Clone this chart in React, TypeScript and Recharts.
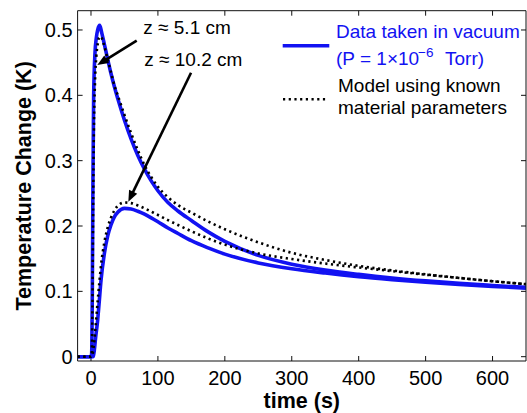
import React from 'react';
import { LineChart, Line, XAxis, YAxis, ReferenceLine, Label } from 'recharts';

const FONT = '"Liberation Sans", Arial, Helvetica, sans-serif';
const BLUE = '#1212f2';

// axes
const xTicks = [0, 100, 200, 300, 400, 500, 600];
const yTicks = [0, 0.1, 0.2, 0.3, 0.4, 0.5];
const xDomain: [number, number] = [-20, 650];
const yDomain: [number, number] = [-0.0066, 0.5295];

// measured data, z ≈ 5.1 cm
const dataTimes5 = [-20, 0, 1, 2, 3, 4, 6, 8, 10, 13, 16, 20, 25, 30, 35, 40, 50, 60, 70, 80, 90, 100, 115, 130, 150, 175, 200, 250, 300, 350, 400, 450, 500, 550, 600, 650];
const dataTemps5 = [0, 0, 0.005, 0.1, 0.28, 0.4, 0.465, 0.488, 0.5, 0.507, 0.496, 0.478, 0.455, 0.433, 0.413, 0.395, 0.362, 0.333, 0.308, 0.287, 0.269, 0.254, 0.236, 0.223, 0.2085, 0.191, 0.1765, 0.155, 0.1415, 0.1325, 0.126, 0.1205, 0.116, 0.1122, 0.109, 0.106];

// model, z ≈ 5.1 cm
const modelTimes5 = [-20, 0, 1, 2, 3, 4, 6, 8, 10, 12, 15, 18, 20, 25, 30, 35, 40, 50, 60, 70, 80, 90, 100, 115, 130, 150, 175, 200, 250, 300, 350, 400, 450, 500, 550, 600, 650];
const modelTemps5 = [0, 0, 0.003, 0.06, 0.2, 0.32, 0.42, 0.46, 0.478, 0.488, 0.49, 0.482, 0.475, 0.455, 0.435, 0.415, 0.4, 0.37, 0.342, 0.316, 0.293, 0.275, 0.26, 0.244, 0.232, 0.2205, 0.207, 0.195, 0.175, 0.159, 0.148, 0.139, 0.132, 0.126, 0.1205, 0.1155, 0.111];

// measured data, z ≈ 10.2 cm
const dataTimes10 = [-20, 0, 3, 5, 7, 10, 12, 15, 20, 25, 30, 35, 40, 50, 60, 70, 80, 90, 100, 115, 130, 150, 175, 200, 250, 300, 350, 400, 450, 500, 550, 600, 650];
const dataTemps10 = [0, 0, 0, 0.01, 0.03, 0.056, 0.08, 0.117, 0.158, 0.185, 0.202, 0.214, 0.221, 0.227, 0.226, 0.2225, 0.218, 0.2125, 0.2065, 0.197, 0.1885, 0.1775, 0.1665, 0.157, 0.1435, 0.1345, 0.128, 0.1225, 0.118, 0.114, 0.1105, 0.1075, 0.105];

// model, z ≈ 10.2 cm
const modelTimes10 = [-20, 0, 2, 4, 6, 8, 10, 12, 15, 20, 25, 30, 35, 40, 50, 60, 70, 80, 95, 115, 130, 150, 175, 200, 250, 300, 350, 400, 450, 500, 550, 600, 650];
const modelTemps10 = [0, 0, 0.002, 0.015, 0.035, 0.06, 0.085, 0.108, 0.14, 0.175, 0.198, 0.213, 0.224, 0.231, 0.236, 0.235, 0.2315, 0.227, 0.2195, 0.209, 0.2015, 0.192, 0.181, 0.1715, 0.158, 0.1495, 0.1425, 0.1365, 0.131, 0.1255, 0.1205, 0.1155, 0.111];

// annotation arrows (data coordinates): tail -> tip
const arrowTailTimes = [68.3, 149.5];
const arrowTailTemps = [0.4836, 0.4346];
const arrowTipTimes = [9.4, 55.8];
const arrowTipTemps = [0.4464, 0.2372];
const annotationTexts = ['z ≈ 5.1 cm', 'z ≈ 10.2 cm'];

const toPoints = (ts: number[], vs: number[]) => ts.map((t, i) => ({ t, v: vs[i] }));

const AXIS_COLOR = '#111';
const TICK_LEN = 5;

const Arrow = (p: any) => {
  const { x1, y1, x2, y2 } = p;
  const dx = x2 - x1;
  const dy = y2 - y1;
  const len = Math.hypot(dx, dy) || 1;
  const ux = dx / len;
  const uy = dy / len;
  const hl = 11;
  const hw = 4.5;
  const bx = x2 - ux * hl;
  const by = y2 - uy * hl;
  return (
    <g>
      <line x1={x1} y1={y1} x2={bx + ux * 2} y2={by + uy * 2} stroke="#000" strokeWidth={2.6} />
      <polygon
        points={`${x2},${y2} ${bx - uy * hw},${by + ux * hw} ${bx + uy * hw},${by - ux * hw}`}
        fill="#000"
      />
    </g>
  );
};

// inward tick marks at both ends of a full-span reference line
const VTicks = (p: any) => {
  const { x1, y1, x2, y2 } = p;
  const top = Math.min(y1, y2);
  const bot = Math.max(y1, y2);
  return (
    <g>
      <line x1={x1} y1={top} x2={x1} y2={top + TICK_LEN} stroke={AXIS_COLOR} strokeWidth={1} />
      <line x1={x2} y1={bot - TICK_LEN} x2={x2} y2={bot} stroke={AXIS_COLOR} strokeWidth={1} />
    </g>
  );
};
const HTicks = (p: any) => {
  const { x1, y1, x2, y2 } = p;
  const left = Math.min(x1, x2);
  const right = Math.max(x1, x2);
  return (
    <g>
      <line x1={left} y1={y1} x2={left + TICK_LEN} y2={y1} stroke={AXIS_COLOR} strokeWidth={1} />
      <line x1={right - TICK_LEN} y1={y2} x2={right} y2={y2} stroke={AXIS_COLOR} strokeWidth={1} />
    </g>
  );
};

const tickStyle = { fontSize: 20, fill: '#000', fontFamily: FONT };

export default function App() {
  const s5 = toPoints(dataTimes5, dataTemps5);
  const m5 = toPoints(modelTimes5, modelTemps5);
  const s10 = toPoints(dataTimes10, dataTemps10);
  const m10 = toPoints(modelTimes10, modelTemps10);

  return (
    <div style={{ position: 'absolute', left: 0, top: 0, width: 527, height: 413, background: '#fff' }}>
      <LineChart width={527} height={413} margin={{ top: 10.7, right: 1, left: 0, bottom: 0 }}>
        <XAxis
          xAxisId="b"
          dataKey="t"
          type="number"
          domain={xDomain}
          ticks={xTicks}
          allowDataOverflow
          height={52}
          tickLine={false}
          tickSize={5}
          tickMargin={5}
          axisLine={{ stroke: AXIS_COLOR }}
          tick={tickStyle}
        >
          <Label
            content={(props: any) => {
              const vb = props.viewBox;
              return (
                <text x={vb.x + vb.width / 2} y={407.5} textAnchor="middle" fontFamily={FONT} fontSize={21.5} fontWeight="bold" fill="#000">
                  time (s)
                </text>
              );
            }}
          />
        </XAxis>
        <XAxis xAxisId="tm" dataKey="t" type="number" orientation="top" mirror domain={xDomain} ticks={xTicks} allowDataOverflow tick={false} axisLine={{ stroke: AXIS_COLOR }} tickLine={false} />
        <YAxis
          yAxisId="l"
          type="number"
          domain={yDomain}
          ticks={yTicks}
          allowDataOverflow
          width={77.6}
          tickLine={false}
          tickSize={5}
          tickMargin={0}
          axisLine={{ stroke: AXIS_COLOR }}
          tick={tickStyle}
        >
          <Label
            content={(props: any) => {
              const vb = props.viewBox;
              const cy = vb.y + vb.height / 2;
              return (
                <text x={31} y={cy} transform={`rotate(-90 31 ${cy})`} textAnchor="middle" fontFamily={FONT} fontSize={21.5} fontWeight="bold" fill="#000">
                  Temperature Change (K)
                </text>
              );
            }}
          />
        </YAxis>
        <YAxis yAxisId="rm" type="number" orientation="right" mirror domain={yDomain} ticks={yTicks} allowDataOverflow tick={false} axisLine={{ stroke: AXIS_COLOR }} tickLine={false} />

        {xTicks.map((t) => (
          <ReferenceLine key={`xt${t}`} xAxisId="b" yAxisId="l" x={t} shape={VTicks} />
        ))}
        {yTicks.map((v) => (
          <ReferenceLine key={`yt${v}`} xAxisId="b" yAxisId="l" y={v} shape={HTicks} />
        ))}

        <Line xAxisId="b" yAxisId="l" data={s5} dataKey="v" type="monotone" stroke={BLUE} strokeWidth={3.6} dot={false} isAnimationActive={false} />
        <Line xAxisId="b" yAxisId="l" data={s10} dataKey="v" type="monotone" stroke={BLUE} strokeWidth={3.6} dot={false} isAnimationActive={false} />
        <Line xAxisId="b" yAxisId="l" data={m5} dataKey="v" type="monotone" stroke="#000" strokeWidth={2.6} strokeDasharray="2.2 3.5" dot={false} isAnimationActive={false} />
        <Line xAxisId="b" yAxisId="l" data={m10} dataKey="v" type="monotone" stroke="#000" strokeWidth={2.6} strokeDasharray="2.2 3.5" dot={false} isAnimationActive={false} />

        {arrowTailTimes.map((t, i) => (
          <ReferenceLine
            key={`arrow${i}`}
            xAxisId="b"
            yAxisId="l"
            ifOverflow="visible"
            segment={[
              { x: t, y: arrowTailTemps[i] },
              { x: arrowTipTimes[i], y: arrowTipTemps[i] },
            ]}
            shape={Arrow}
          />
        ))}
      </LineChart>

      <svg width={527} height={413} style={{ position: 'absolute', left: 0, top: 0, pointerEvents: 'none' }} fontFamily={FONT}>
        <text x={143.3} y={34.3} fontSize={19} fill="#000">{annotationTexts[0]}</text>
        <text x={144.3} y={65.7} fontSize={19} fill="#000">{annotationTexts[1]}</text>

        <line x1={282.7} y1={45.7} x2={329.3} y2={45.7} stroke={BLUE} strokeWidth={3.6} />
        <text x={336} y={38.3} fontSize={19} fill={BLUE}>Data taken in vacuum</text>
        <text x={336} y={65} fontSize={19} fill={BLUE}>(P = 1×10</text>
        <text x={418} y={57} fontSize={13.5} fill={BLUE}>−6</text>
        <text x={445} y={65} fontSize={19} fill={BLUE}>Torr)</text>

        <line x1={283} y1={99.3} x2={327} y2={99.3} stroke="#000" strokeWidth={2.6} strokeDasharray="2.2 3.5" />
        <text x={338} y={92} fontSize={19} fill="#000">Model using known</text>
        <text x={338} y={114} fontSize={19} fill="#000">material parameters</text>
      </svg>
    </div>
  );
}
